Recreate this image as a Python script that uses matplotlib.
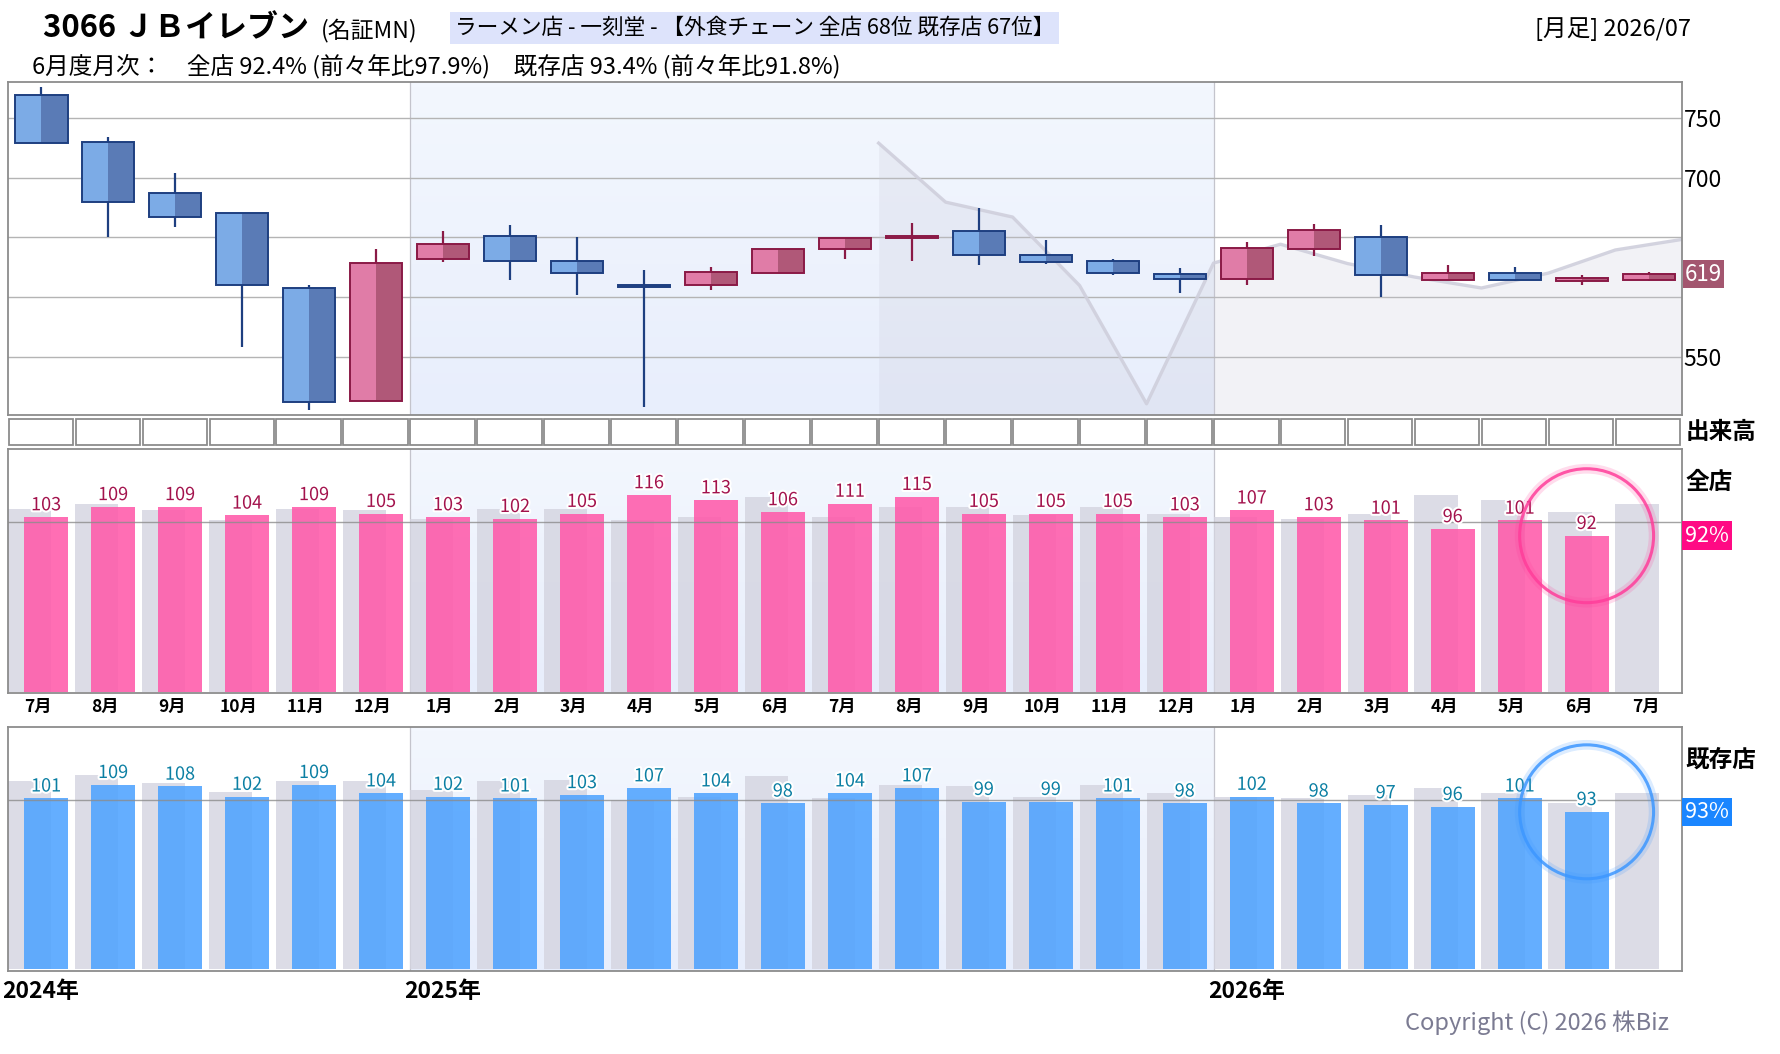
import numpy as np
import matplotlib
matplotlib.use("Agg")
import matplotlib.pyplot as plt
from matplotlib.patches import Rectangle
from matplotlib.colors import LinearSegmentedColormap
import matplotlib.patheffects as pe

plt.rcParams["font.family"] = ["Noto Sans CJK JP", "DejaVu Sans"]

# ---- data ----------------------------------------------------------------
months = ["7月", "8月", "9月", "10月", "11月", "12月",
          "1月", "2月", "3月", "4月", "5月", "6月", "7月", "8月", "9月", "10月", "11月", "12月",
          "1月", "2月", "3月", "4月", "5月", "6月", "7月"]
years = ["2024年", "2025年", "2026年"]
year_start_idx = [0, 6, 18]

opens = [769.3, 729.9, 687.2, 670.4, 607.5, 512.8, 631.8, 651.1, 630.2, 610.0, 610.0, 619.8, 640.2,
         649.4, 655.3, 635.1, 630.0, 619.1, 615.0, 640.0, 650.0, 614.2, 620.3, 613.5, 613.9]
closes = [729.0, 679.6, 667.0, 610.0, 512.0, 628.5, 644.4, 630.2, 619.8, 608.4, 621.0, 640.2, 649.4,
          651.0, 635.1, 629.2, 620.0, 614.9, 640.8, 655.8, 618.3, 620.3, 614.2, 615.5, 619.2]
highs = [776.0, 734.4, 704.0, 670.4, 610.0, 640.5, 655.6, 660.6, 650.3, 622.6, 625.1, 640.2, 649.4,
         662.0, 674.2, 648.0, 631.7, 624.4, 645.8, 660.8, 660.3, 627.0, 625.3, 618.3, 621.1]
lows = [729.0, 650.0, 658.4, 557.8, 505.3, 512.8, 629.0, 614.0, 601.4, 507.5, 605.6, 619.8, 631.6,
        629.8, 626.4, 627.8, 618.0, 603.7, 609.7, 634.7, 599.7, 614.2, 613.0, 609.7, 613.0]

# reference line (plotted on month boundaries from 8月2025)
ref_line = [729, 679.5, 667, 609.6, 510.4, 628.4, 644.2, 628, 616.7, 607.5, 620, 639.4, 648.3]

# 全店 / 既存店 monthly (%), plus previous-year values (gray)
all_store = [103, 109, 109, 104, 109, 105, 103, 102, 105, 116, 113, 106,
             111, 115, 105, 105, 105, 103, 107, 103, 101, 96, 101, 92]
all_prev = [108, 111, 107, 101, 108, 107, 102, 108, 108, 101, 103, 115,
            103, 109, 109, 104, 109, 105, 103, 102, 105, 116, 113, 106, 111]
exist_store = [101, 109, 108, 102, 109, 104, 102, 101, 103, 107, 104, 98,
               104, 107, 99, 99, 101, 98, 102, 98, 97, 96, 101, 93]
exist_prev = [111, 115, 110, 105, 111, 111, 106, 111, 112, 100, 102, 114,
              101, 109, 108, 102, 109, 104, 102, 101, 103, 107, 104, 98, 104]

# ---- layout helpers --------------------------------------------------------
W, H = 1780, 1054
N = len(months)


def fx(x):
    return x / W


def fy(y):
    return 1 - y / H


LEFT, RIGHT = 7.9, 1682.4
AW = fx(RIGHT) - fx(LEFT)
FRAME = "#8c8c8c"

fig = plt.figure(figsize=(W / 100, H / 100), dpi=100)
ax_p = fig.add_axes([fx(LEFT), fy(415), AW, (415 - 82.3) / H])
ax_v = fig.add_axes([fx(LEFT), fy(449.3), AW, (449.3 - 415) / H])
ax_a = fig.add_axes([fx(LEFT), fy(693.3), AW, (693.3 - 449.3) / H])
ax_e = fig.add_axes([fx(LEFT), fy(970.7), AW, (970.7 - 727.3) / H])

x = np.arange(N)
shade_cmap = LinearSegmentedColormap.from_list("shade", ["#e8eefc", "#f3f7fe"])


def shade_2025(ax, ylo, yhi):
    grad = np.linspace(0, 1, 64).reshape(-1, 1)
    ax.imshow(grad, extent=(5.5, 17.5, yhi, ylo), aspect="auto", cmap=shade_cmap,
              zorder=0, origin="upper")
    for b in (5.5, 17.5):
        ax.axvline(b, color="#c4c4cc", lw=0.9, zorder=0.5)


def frame(ax):
    for s in ax.spines.values():
        s.set_color(FRAME)
        s.set_linewidth(1.3)
    ax.tick_params(length=0)


# ---- price panel ------------------------------------------------------------
P_LO, P_HI = 501, 780
shade_2025(ax_p, P_LO, P_HI)
for g in (550, 600, 650, 700, 750):
    ax_p.axhline(g, color="#b4b4b4", lw=1.0, zorder=1)

lx = np.arange(12.5, 12.5 + len(ref_line))
ax_p.fill_between(lx, ref_line, P_LO, color="#c8c8d7", alpha=0.22, lw=0, zorder=1.2)
ax_p.plot(lx, ref_line, color="#cfcfdc", lw=2.4, alpha=0.9, zorder=1.3,
          solid_joinstyle="round")

BODY_W = 0.78
for i in range(N):
    o, h, l, c = opens[i], highs[i], lows[i], closes[i]
    up = c >= o
    if up:
        light, dark, edge = "#e07ca7", "#b05878", "#8a1a46"
    else:
        light, dark, edge = "#7cabe6", "#5a7bb6", "#1e3f80"
    ax_p.plot([i, i], [l, h], color=edge, lw=1.6, zorder=2, solid_capstyle="butt")
    bot, top = min(o, c), max(o, c)
    ht = max(top - bot, 0.6)
    ax_p.add_patch(Rectangle((i - BODY_W / 2, bot), BODY_W / 2, ht, fc=light, ec="none", zorder=3))
    ax_p.add_patch(Rectangle((i, bot), BODY_W / 2, ht, fc=dark, ec="none", zorder=3))
    ax_p.add_patch(Rectangle((i - BODY_W / 2, bot), BODY_W, ht, fc="none", ec=edge, lw=1.4, zorder=4))

ax_p.set_xlim(-0.5, N - 0.5)
ax_p.set_ylim(P_LO, P_HI)
ax_p.set_xticks([])
ax_p.yaxis.tick_right()
ax_p.set_yticks([550, 700, 750])
ax_p.set_yticklabels(["550", "700", "750"], fontsize=16.5)
ax_p.tick_params(axis="y", pad=1)
frame(ax_p)
ax_p.text(1.0015, closes[-1], f"{closes[-1]:.0f}", transform=ax_p.get_yaxis_transform(),
          ha="left", va="center", fontsize=16, color="white",
          bbox=dict(boxstyle="square,pad=0.1", fc="#a3566f", ec="none"))

# ---- volume strip (empty) --------------------------------------------------
ax_v.set_xlim(-0.5, N - 0.5)
ax_v.set_ylim(0, 1)
for i in range(N):
    ax_v.add_patch(Rectangle((i - 0.49, 0.12), 0.96, 0.755, fc="white", ec=FRAME, lw=1.3))
ax_v.axis("off")
ax_v.text(1.002, 0.5, "出来高", transform=ax_v.transAxes, ha="left", va="center",
          fontsize=17, fontweight="bold")


# ---- monthly sales panels ---------------------------------------------------
def sales_panel(ax, vals, prev, bar_color, label_color, ring_color, box_color, name):
    lo, hi = -1, 143
    shade_2025(ax, lo, hi)
    ax.bar(x - 0.175, prev, width=0.65, color="#d4d4e0", alpha=0.8, zorder=1)
    xs = np.arange(len(vals)) + 0.07
    ax.bar(xs, vals, width=0.66, color=bar_color, alpha=0.88, zorder=2)
    ax.axhline(100, color="#8c8c8c", lw=1.0, alpha=0.8, zorder=3)
    for xi, v in zip(xs, vals):
        ax.annotate(f"{v}", (xi, v), xytext=(0, 2), textcoords="offset points",
                    ha="center", va="bottom", fontsize=13, color=label_color, zorder=5,
                    path_effects=[pe.withStroke(linewidth=3, foreground="white")])
    # highlight ring on latest month
    ax.scatter([xs[-1]], [vals[-1]], s=9300, facecolors="none", edgecolors=ring_color,
               linewidths=7, alpha=0.18, zorder=6)
    ax.scatter([xs[-1]], [vals[-1]], s=9300, facecolors="none", edgecolors=ring_color,
               linewidths=2.2, alpha=0.85, zorder=6)
    ax.set_xlim(-0.5, N - 0.5)
    ax.set_ylim(lo, hi)
    ax.set_yticks([])
    frame(ax)
    ax.text(1.002, 0.867, name, transform=ax.transAxes, ha="left", va="center",
            fontsize=17, fontweight="bold")
    ax.text(1.0015, vals[-1], f"{vals[-1]}%", transform=ax.get_yaxis_transform(),
            ha="left", va="center", fontsize=15.5, color="white",
            bbox=dict(boxstyle="square,pad=0.15", fc=box_color, ec="none"))


sales_panel(ax_a, all_store, all_prev, "#ff5aaa", "#a3124c", "#ff3d9a", "#ff0a84", "全店")
sales_panel(ax_e, exist_store, exist_prev, "#4fa3ff", "#0b7fa3", "#3d97ff", "#1a86ff", "既存店")

ax_a.set_xticks(x - 0.05)
ax_a.set_xticklabels(months, fontsize=12.5, fontweight="bold")
ax_a.tick_params(axis="x", pad=3)
ax_e.set_xticks([])
for yl, idx in zip(years, year_start_idx):
    ax_e.annotate(yl, (idx - 0.5, 0), xycoords=("data", "axes fraction"), xytext=(-4, -7),
                  textcoords="offset points", ha="left", va="top", fontsize=16.5, fontweight="bold",
                  annotation_clip=False)

# ---- header texts -------------------------------------------------------------
fig.text(fx(43), fy(28), "3066 ＪＢイレブン", fontsize=22.3, fontweight="bold", va="center")
fig.text(fx(321), fy(30), "(名証MN)", fontsize=16.5, va="center")
fig.text(fx(455), fy(28), "ラーメン店 - 一刻堂 - 【外食チェーン 全店 68位 既存店 67位】",
         fontsize=15.6, va="center",
         bbox=dict(boxstyle="square,pad=0.22", fc="#dde3fb", ec="none"))
fig.text(fx(1691), fy(29), "[月足] 2026/07", fontsize=17, va="center", ha="right")
fig.text(fx(32), fy(66), "6月度月次：　全店 92.4% (前々年比97.9%)　既存店 93.4% (前々年比91.8%)",
         fontsize=17, va="center")
fig.text(fx(1669), fy(1023), "Copyright (C) 2026 株Biz", fontsize=17, va="center", ha="right",
         color="#7b7b92")

fig.savefig("out.png", dpi=100)
